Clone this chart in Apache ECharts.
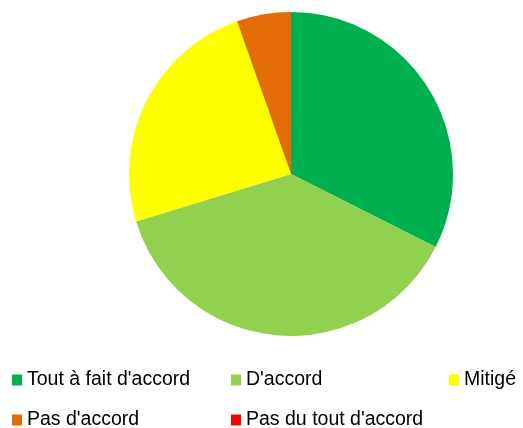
<!DOCTYPE html>
<html><head><meta charset="utf-8">
<script src="https://cdn.jsdelivr.net/npm/echarts@6/dist/echarts.min.js"></script>
<style>html,body{margin:0;padding:0;background:#fff}#c{width:523px;height:428px}</style>
</head><body><div id="c"></div>
<script>
const categories = ["Tout à fait d'accord", "D'accord", "Mitigé", "Pas d'accord", "Pas du tout d'accord"];
const values = [12, 14, 9, 2, 0];
const colors = ['#00B050', '#92D050', '#FFFF00', '#E36C09', '#FF0000'];
const legendPos = [[12, 370], [231, 370], [449, 370], [12, 410], [231, 410]];

const chart = echarts.init(document.getElementById('c'));
chart.setOption({
  animation: false,
  color: colors,
  legend: categories.map((name, i) => ({
    data: [name],
    left: legendPos[i][0],
    top: legendPos[i][1],
    icon: 'rect',
    itemWidth: 10,
    itemHeight: 11,
    itemGap: 6,
    padding: 0,
    selectedMode: false,
    textStyle: { fontFamily: 'Liberation Sans, Arial, sans-serif', fontSize: 19.5, lineHeight: 20, color: '#000', padding: [0, 0, 0, 0] }
  })),
  series: [{
    type: 'pie',
    center: [291, 174],
    radius: 162,
    startAngle: 90,
    clockwise: true,
    label: { show: false },
    labelLine: { show: false },
    emphasis: { disabled: true },
    itemStyle: { borderWidth: 0 },
    data: categories.map((name, i) => ({ name, value: values[i] }))
  }]
});
</script></body></html>
